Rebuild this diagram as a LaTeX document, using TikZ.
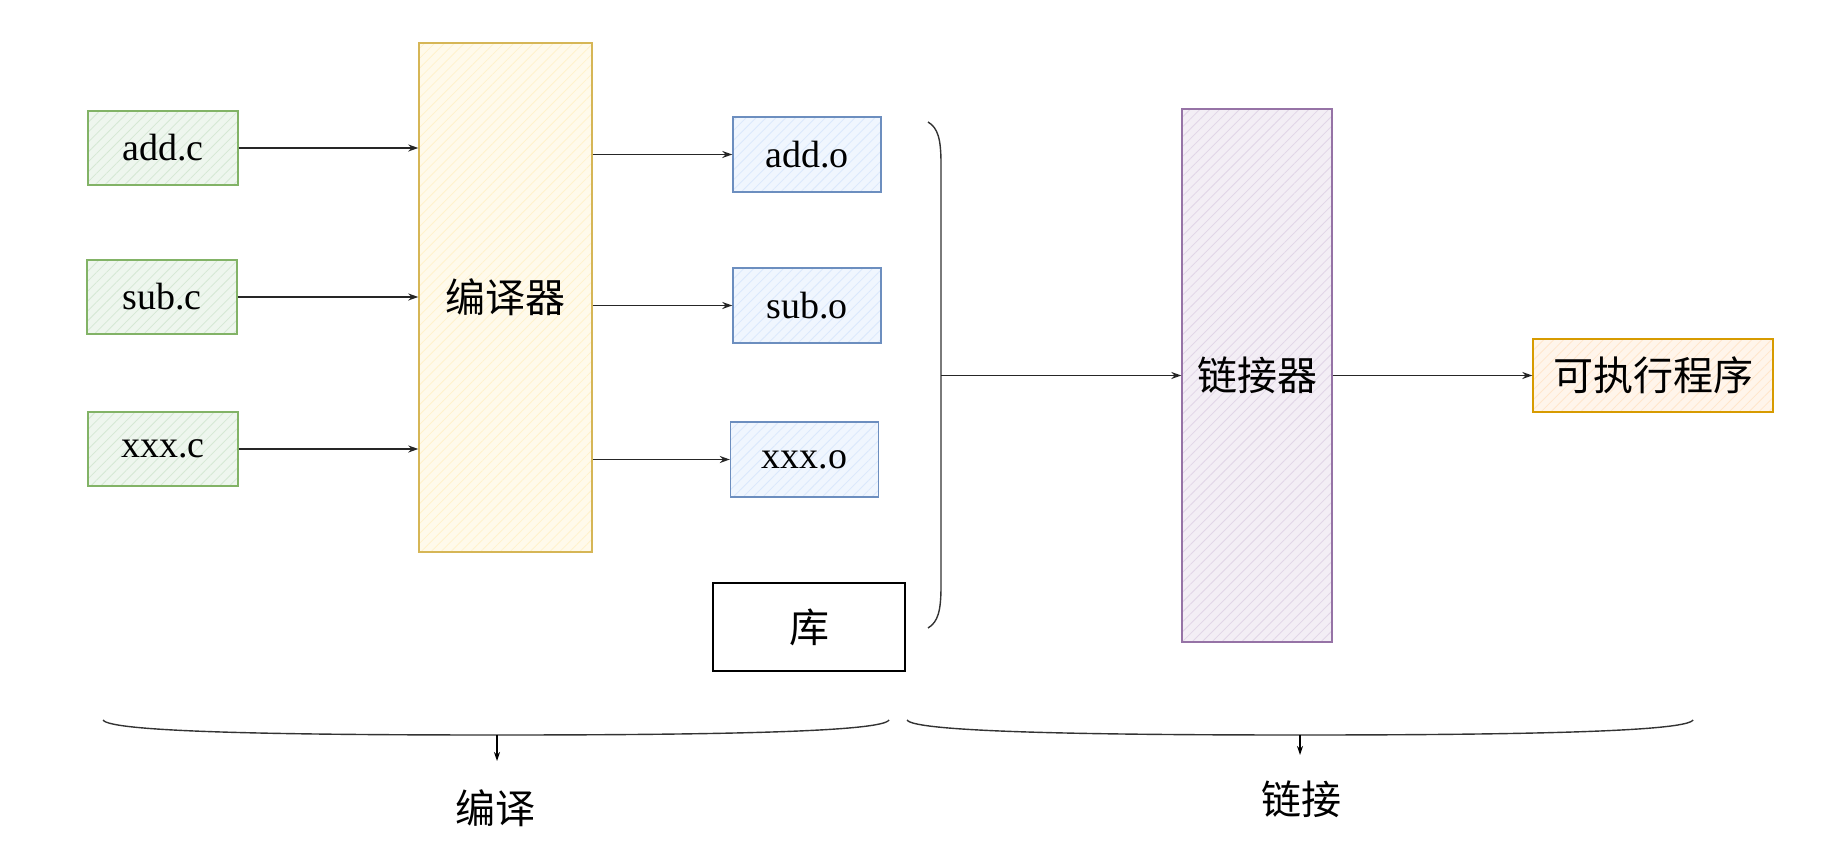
\documentclass[tikz,border=0pt]{standalone}
\usepackage{fontspec}
\setmainfont{Liberation Serif}
\newfontfamily\cjk{Noto Sans CJK SC}
\usetikzlibrary{arrows.meta,patterns.meta}
\definecolor{gS}{HTML}{82B366}\definecolor{gF}{HTML}{D5E8D4}
\definecolor{yS}{HTML}{D6B656}\definecolor{yF}{HTML}{FFF2CC}
\definecolor{bS}{HTML}{6C8EBF}\definecolor{bF}{HTML}{DAE8FC}
\definecolor{pS}{HTML}{9673A6}\definecolor{pF}{HTML}{E1D5E7}
\definecolor{oS}{HTML}{D79B00}\definecolor{oF}{HTML}{FFE6CC}
\tikzset{
  hbox/.style n args={2}{draw=#1, line width=1.4pt,
    preaction={fill=#2!40},
    preaction={pattern={Lines[angle=45,distance=7pt,line width=0.8pt]}, pattern color=#2},
    inner sep=0pt},
  latin/.style={font=\fontsize{38}{44}\selectfont},
  han/.style={font=\cjk\fontsize{40}{46}\selectfont},
  conn/.style={line width=1.4pt, draw=black!85, -{Stealth[length=10pt,width=7pt]}},
  brace/.style={line width=1.4pt, draw=black!80},
}
\begin{document}
\begin{tikzpicture}[x=1pt,y=1pt]
\useasboundingbox (0,0) rectangle (1835,854);
% sources
\node[hbox={gS}{gF}, latin, minimum width=150pt, minimum height=74pt] (addc) at (163,706) {add.c};
\node[hbox={gS}{gF}, latin, minimum width=150pt, minimum height=74pt] (subc) at (162,557) {sub.c};
\node[hbox={gS}{gF}, latin, minimum width=150pt, minimum height=74pt] (xxxc) at (163,405) {xxx.c};
% compiler
\node[hbox={yS}{yF}, han, minimum width=173pt, minimum height=509pt] (comp) at (505.5,556.5) {编译器};
% objects
\node[hbox={bS}{bF}, latin, minimum width=148pt, minimum height=75pt] (addo) at (807,699.5) {add.o};
\node[hbox={bS}{bF}, latin, minimum width=148pt, minimum height=75pt] (subo) at (807,548.5) {sub.o};
\node[hbox={bS}{bF}, latin, minimum width=148pt, minimum height=75pt] (xxxo) at (804.5,394.5) {xxx.o};
\node[draw=black, line width=1.6pt, fill=white, han, minimum width=192pt, minimum height=88pt, inner sep=0pt] (lib) at (809,227) {库};
% linker
\node[hbox={pS}{pF}, han, minimum width=150pt, minimum height=533pt] (link) at (1257,478.5) {链接器};
\node[hbox={oS}{oF}, han, minimum width=240pt, minimum height=73pt] (exe) at (1653,478.5) {可执行程序};
% arrows into compiler
\draw[conn] (addc.east) -- (addc.east -| comp.west);
\draw[conn] (subc.east) -- (subc.east -| comp.west);
\draw[conn] (xxxc.east) -- (xxxc.east -| comp.west);
% arrows out of compiler
\draw[conn] (comp.east |- addo.west) -- (addo.west);
\draw[conn] (comp.east |- subo.west) -- (subo.west);
\draw[conn] (comp.east |- xxxo.west) -- (xxxo.west);
% bracket
\coordinate (bmid) at (941,478.5);
\draw[brace] (928,732) .. controls (938,726) and (941,715) .. (941,690)
  -- (941,268) .. controls (941,243) and (938,232) .. (928,226);
\draw[conn] (bmid) -- (link.west);
\draw[conn] (link.east) -- (exe.west);
% bottom braces
\coordinate (cb) at (497,119);
\coordinate (lb) at (1300,119);
\draw[brace] (103,134) .. controls (110,122) and (280,119) .. (cb)
  .. controls (714,119) and (882,122) .. (889,134);
\draw[brace] (907,134) .. controls (914,122) and (1090,119) .. (lb)
  .. controls (1510,119) and (1686,122) .. (1693,134);
\coordinate (cbe) at (497,93);
\coordinate (lbe) at (1300,99);
\draw[line width=1.2pt, -{Stealth[length=9pt,width=6pt]}] (cb) -- (cbe);
\draw[line width=1.2pt, -{Stealth[length=9pt,width=6pt]}] (lb) -- (lbe);
\node[han] (lc) at (495,46) {编译};
\node[han] (ll) at (1301,55) {链接};
\end{tikzpicture}
\end{document}
